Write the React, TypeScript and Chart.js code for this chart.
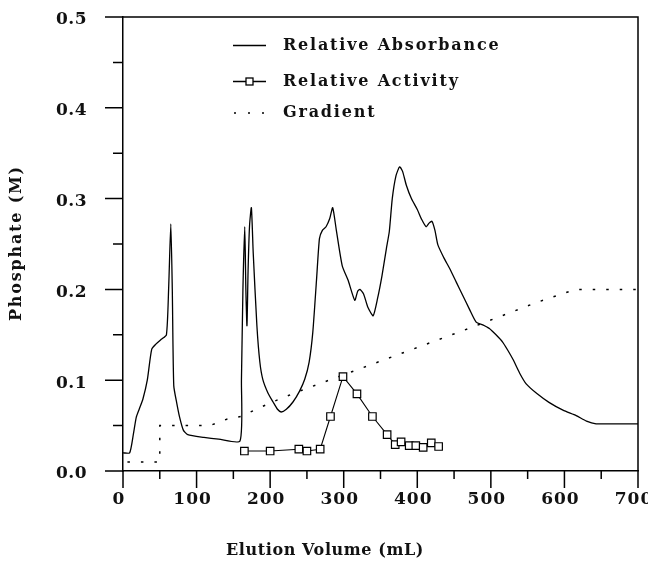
import { useEffect, useRef } from 'react';
import { Chart, registerables } from 'chart.js';

Chart.register(...registerables);

// ---- data ----
const absorbanceX = [
  0, 9, 14, 18, 22, 27, 33, 39, 45, 52, 59, 62, 65, 67, 69, 73, 77, 82, 88, 110, 130, 159,
  161, 163, 165.5, 167, 168.5, 170, 172, 174.5, 177, 182, 186, 190, 197, 204, 210, 215, 222,
  231, 240, 247, 253, 258, 263, 267, 271, 276, 281, 285, 290, 298, 306, 315, 319, 322, 327,
  333, 340, 346, 352, 358, 362, 366, 371, 376, 380, 385, 392, 400, 406, 412, 416, 420, 424,
  428, 436, 444, 453, 462, 471, 480, 489, 498, 507, 516, 523, 530, 539, 548, 563, 579, 598,
  616, 630, 643, 660, 700,
];
const absorbanceY = [
  0.02, 0.02, 0.04, 0.059, 0.068, 0.079, 0.1, 0.134, 0.14, 0.145, 0.15, 0.2, 0.272, 0.2,
  0.094, 0.075, 0.059, 0.045, 0.04, 0.037, 0.035, 0.033, 0.1, 0.2, 0.269, 0.2, 0.16, 0.22,
  0.27, 0.29, 0.24, 0.16, 0.12, 0.101, 0.086, 0.076, 0.068, 0.065, 0.068, 0.076, 0.088, 0.101,
  0.12, 0.153, 0.21, 0.256, 0.265, 0.269, 0.278, 0.29, 0.265, 0.226, 0.21, 0.188, 0.198, 0.2,
  0.195, 0.18, 0.171, 0.19, 0.215, 0.245, 0.264, 0.3, 0.325, 0.335, 0.33, 0.315, 0.3, 0.288,
  0.277, 0.269, 0.273, 0.275, 0.265, 0.249, 0.235, 0.223, 0.208, 0.193, 0.178, 0.164, 0.161,
  0.157, 0.15, 0.142, 0.133, 0.123, 0.108, 0.096, 0.085, 0.0756, 0.067, 0.061, 0.055, 0.052,
  0.052, 0.052,
];
const activityX = [165, 200, 239, 250, 268, 282, 299, 318, 339, 359, 370, 378, 389, 398, 408, 419, 429];
const activityY = [
  0.022, 0.022, 0.024, 0.022, 0.024, 0.06, 0.104, 0.085, 0.06, 0.04, 0.029, 0.032, 0.028,
  0.028, 0.026, 0.031, 0.027,
];
const gradientX = [6, 50, 50, 118, 141, 160, 200, 240, 300, 370, 480, 560, 615, 700];
const gradientY = [0.01, 0.01, 0.05, 0.05, 0.057, 0.06, 0.075, 0.088, 0.106, 0.127, 0.16, 0.185, 0.2, 0.2];

const xMin = 0;
const xMax = 700;
const xStep = 100;
const yMin = 0;
const yMax = 0.5;
const yStep = 0.1;

const seriesLabels = ['Relative Absorbance', 'Relative Activity', 'Gradient'];
const xTitle = 'Elution Volume (mL)';
const yTitle = 'Phosphate (M)';

const FONT = '"DejaVu Serif", "Liberation Serif", serif';
const INK = '#111';

function toPoints(xs: number[], ys: number[]) {
  return xs.map((x, i) => ({ x, y: ys[i] }));
}

function zeroPadding(s: any) {
  s.paddingLeft = 0;
  s.paddingRight = 0;
  s.paddingTop = 0;
  s.paddingBottom = 0;
}

const framePlugin = {
  id: 'frameAndLegend',
  beforeDraw(chart: any) {
    chart.ctx.letterSpacing = '0.5px';
  },
  beforeDatasetsDraw(chart: any) {
    chart.ctx.letterSpacing = '0px';
  },
  afterDatasetsDraw(chart: any) {
    chart.ctx.letterSpacing = '1px';
  },
  afterDraw(chart: any) {
    const ctx = chart.ctx as CanvasRenderingContext2D;
    (ctx as any).letterSpacing = '0px';
    const { left, right, top, bottom } = chart.chartArea;
    const xs = chart.scales.x;
    const ys = chart.scales.y;
    ctx.save();
    ctx.strokeStyle = '#000';
    ctx.lineWidth = 1.5;
    ctx.beginPath();
    for (let v = xMin; v <= xMax; v += xStep / 2) {
      const px = xs.getPixelForValue(v);
      const len = v % xStep === 0 ? 17 : 8;
      ctx.moveTo(px, bottom);
      ctx.lineTo(px, bottom + len);
    }
    for (let i = 0; i <= 10; i++) {
      const v = (i * yStep) / 2;
      const py = ys.getPixelForValue(v);
      const len = i % 2 === 0 ? 18 : 10;
      ctx.moveTo(left, py);
      ctx.lineTo(left - len, py);
    }
    ctx.moveTo(left, top);
    ctx.lineTo(right, top);
    ctx.lineTo(right, bottom);
    ctx.stroke();

    // legend
    const rows = [37.5, 73.5, 105];
    const lx0 = 225;
    const lx1 = 258;
    const tx = 275;
    ctx.lineWidth = 1.3;
    ctx.beginPath();
    ctx.moveTo(lx0, rows[0]);
    ctx.lineTo(lx1, rows[0]);
    ctx.stroke();
    ctx.beginPath();
    ctx.moveTo(lx0, rows[1]);
    ctx.lineTo(lx1, rows[1]);
    ctx.stroke();
    ctx.fillStyle = '#fff';
    ctx.fillRect(241.5 - 3.5, rows[1] - 3.5, 7, 7);
    ctx.strokeRect(241.5 - 3.5, rows[1] - 3.5, 7, 7);
    ctx.beginPath();
    [226, 240, 254].forEach((d) => {
      ctx.moveTo(d, rows[2]);
      ctx.lineTo(d + 2, rows[2]);
    });
    ctx.stroke();

    ctx.fillStyle = INK;
    ctx.font = `bold 16px ${FONT}`;
    (ctx as any).letterSpacing = '1.8px';
    ctx.textBaseline = 'middle';
    ctx.textAlign = 'left';
    seriesLabels.forEach((t, i) => ctx.fillText(t, tx, rows[i]));

    // axis titles
    ctx.save();
    ctx.translate(9, 235);
    ctx.rotate(-Math.PI / 2);
    ctx.textAlign = 'center';
    ctx.fillText(yTitle, 0, 0);
    ctx.restore();

    (ctx as any).letterSpacing = '0.6px';
    ctx.textAlign = 'center';
    ctx.fillText(xTitle, 317, 543);

    (ctx as any).letterSpacing = '0px';
    ctx.restore();
  },
};

export default function App() {
  const ref = useRef<HTMLCanvasElement>(null);
  useEffect(() => {
    if (!ref.current) return;
    const chart = new Chart(ref.current, {
      type: 'line',
      data: {
        datasets: [
          {
            label: seriesLabels[0],
            data: toPoints(absorbanceX, absorbanceY),
            borderColor: '#000',
            borderWidth: 1.3,
            pointRadius: 0,
            tension: 0.2,
            fill: false,
          },
          {
            label: seriesLabels[1],
            data: toPoints(activityX, activityY),
            borderColor: '#000',
            borderWidth: 1.1,
            pointStyle: 'rect',
            pointRadius: 5.3,
            pointBorderWidth: 1.2,
            pointBackgroundColor: '#fff',
            pointBorderColor: '#000',
            tension: 0,
            fill: false,
          },
          {
            label: seriesLabels[2],
            data: toPoints(gradientX, gradientY),
            borderColor: '#000',
            borderWidth: 1.5,
            borderDash: [2.5, 11],
            pointRadius: 0,
            tension: 0,
            fill: false,
          },
        ],
      },
      options: {
        responsive: false,
        animation: false,
        layout: { padding: { top: 9, right: 18, left: 0, bottom: 0 } },
        plugins: { legend: { display: false }, tooltip: { enabled: false }, title: { display: false } },
        scales: {
          x: {
            type: 'linear',
            min: xMin,
            max: xMax,
            border: { display: true, color: '#000', width: 1.5 },
            grid: { display: false, drawTicks: false },
            ticks: {
              stepSize: xStep,
              padding: 18,
              labelOffset: -4,
              maxRotation: 0,
              autoSkip: false,
              color: INK,
              font: { family: FONT, size: 17, weight: 'bold' },
              z: 1,
            },
            afterFit: (s: any) => {
              s.height = 90;
              zeroPadding(s);
            },
          },
          y: {
            type: 'linear',
            min: yMin,
            max: yMax,
            border: { display: true, color: '#000', width: 1.5 },
            grid: { display: false, drawTicks: false },
            ticks: {
              stepSize: yStep,
              padding: 36,
              labelOffset: 3,
              color: INK,
              font: { family: FONT, size: 17, weight: 'bold' },
              callback: (v: any) => Number(v).toFixed(1),
            },
            afterFit: (s: any) => {
              s.width = 115;
              zeroPadding(s);
            },
          },
        },
      },
      plugins: [framePlugin],
    } as any);
    return () => chart.destroy();
  }, []);
  return <canvas ref={ref} width={648} height={553} style={{ display: 'block' }} />;
}
